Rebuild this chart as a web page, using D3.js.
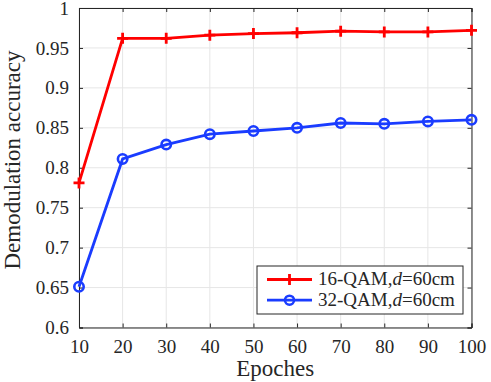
<!DOCTYPE html>
<html>
<head>
  <meta charset="utf-8">
  <script src="https://d3js.org/d3.v7.min.js"></script>
  <style>
    body { margin: 0; background: #fff; }
    svg text { font-family: "Liberation Serif", "DejaVu Serif", serif; fill: #262626; }
  </style>
</head>
<body>
<div id="chart"></div>
<script>
  // data
  const epochs = [10, 20, 30, 40, 50, 60, 70, 80, 90, 100];
  const qam16 = [0.781, 0.962, 0.962, 0.966, 0.968, 0.969, 0.971, 0.970, 0.970, 0.972];
  const qam32 = [0.651, 0.811, 0.829, 0.842, 0.846, 0.850, 0.856, 0.855, 0.858, 0.860];
  const xTicks = [10, 20, 30, 40, 50, 60, 70, 80, 90, 100];
  const yTicks = [0.6, 0.65, 0.7, 0.75, 0.8, 0.85, 0.9, 0.95, 1];
  const seriesNames = ["16-QAM,", "32-QAM,"];

  const width = 491, height = 382;
  const margin = { top: 8, right: 19.5, bottom: 54.5, left: 79 };
  const innerWidth = width - margin.left - margin.right;
  const innerHeight = height - margin.top - margin.bottom;
  const serif = "'Liberation Serif', 'DejaVu Serif', serif";

  const svg = d3.select("#chart").append("svg")
    .attr("width", width).attr("height", height);
  const g = svg.append("g").attr("transform", `translate(${margin.left},${margin.top})`);

  const x = d3.scaleLinear().domain([10, 100]).range([0, innerWidth]);
  const y = d3.scaleLinear().domain([0.6, 1]).range([innerHeight, 0]);

  // grid
  g.append("g").selectAll("line").data(xTicks).join("line")
    .attr("x1", d => x(d)).attr("x2", d => x(d))
    .attr("y1", 0).attr("y2", innerHeight)
    .attr("stroke", "#e6e6e6").attr("stroke-width", 1);
  g.append("g").selectAll("line").data(yTicks).join("line")
    .attr("y1", d => y(d)).attr("y2", d => y(d))
    .attr("x1", 0).attr("x2", innerWidth)
    .attr("stroke", "#e6e6e6").attr("stroke-width", 1);

  // axes, ticks inside, box on all four sides
  const fmtY = d => String(+d.toFixed(2));
  g.append("g").attr("transform", `translate(0,${innerHeight})`)
    .call(d3.axisBottom(x).tickValues(xTicks).tickSize(-4).tickPadding(12).tickFormat(d3.format("d")));
  g.append("g")
    .call(d3.axisLeft(y).tickValues(yTicks).tickSize(-4).tickPadding(10).tickFormat(fmtY));
  g.append("g").call(d3.axisTop(x).tickValues(xTicks).tickSize(-4).tickFormat(""));
  g.append("g").attr("transform", `translate(${innerWidth},0)`)
    .call(d3.axisRight(y).tickValues(yTicks).tickSize(-4).tickFormat(""));
  g.selectAll(".domain").attr("stroke", "#262626").attr("stroke-width", 1);
  g.selectAll(".tick line").attr("stroke", "#262626");
  g.selectAll(".tick text").attr("fill", "#262626")
    .attr("font-family", serif).attr("font-size", 19)
    .style("font-family", serif).style("font-size", "19px");

  // axis labels
  svg.append("text")
    .attr("x", margin.left + innerWidth / 2).attr("y", 376)
    .attr("text-anchor", "middle").style("font-family", serif).style("font-size", "23px")
    .text("Epoches");
  svg.append("text")
    .attr("transform", "translate(20,160) rotate(-90)")
    .attr("text-anchor", "middle").style("font-family", serif).style("font-size", "23px")
    .text("Demodulation accuracy");

  // lines
  const colors = ["#ff0000", "#1a3cff"];
  const line = d3.line().x((d, i) => x(epochs[i])).y(d => y(d));
  g.append("path").datum(qam16).attr("d", line)
    .attr("fill", "none").attr("stroke", colors[0]).attr("stroke-width", 2.8);
  g.append("path").datum(qam32).attr("d", line)
    .attr("fill", "none").attr("stroke", colors[1]).attr("stroke-width", 2.8);

  // markers
  g.append("g").selectAll("path").data(qam16).join("path")
    .attr("d", "M-5.5,0H5.5M0,-5.5V5.5")
    .attr("transform", (d, i) => `translate(${x(epochs[i])},${y(d)})`)
    .attr("stroke", colors[0]).attr("stroke-width", 2.8).attr("fill", "none");
  g.append("g").selectAll("circle").data(qam32).join("circle")
    .attr("cx", (d, i) => x(epochs[i])).attr("cy", d => y(d)).attr("r", 4.7)
    .attr("stroke", colors[1]).attr("stroke-width", 2.6).attr("fill", "none");

  // legend
  const lg = svg.append("g").attr("transform", "translate(257,266)");
  lg.append("rect").attr("width", 206).attr("height", 48)
    .attr("fill", "#fff").attr("stroke", "#262626").attr("stroke-width", 1);
  seriesNames.forEach((name, i) => {
    const row = lg.append("g").attr("transform", `translate(0,${13.5 + i * 20.7})`);
    row.append("line").attr("x1", 10).attr("x2", 55)
      .attr("stroke", colors[i]).attr("stroke-width", 2.8);
    if (i === 0) {
      row.append("path").attr("d", "M27,0H38M32.5,-5.5V5.5")
        .attr("stroke", colors[i]).attr("stroke-width", 2.8);
    } else {
      row.append("circle").attr("cx", 32.5).attr("r", 4.5)
        .attr("fill", "none").attr("stroke", colors[i]).attr("stroke-width", 2.6);
    }
    const t = row.append("text").attr("x", 61).attr("y", 5.8)
      .style("font-family", serif).style("font-size", "19px");
    t.append("tspan").text(name);
    t.append("tspan").style("font-style", "italic").text("d");
    t.append("tspan").text("=60cm");
  });
</script>
</body>
</html>
